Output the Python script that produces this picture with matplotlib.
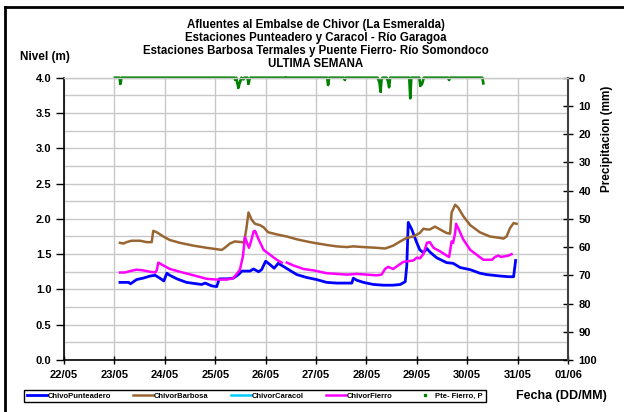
import numpy as np
import matplotlib.pyplot as plt
from matplotlib.lines import Line2D
from matplotlib.ticker import MultipleLocator, FormatStrFormatter

plt.rcParams['font.family'] = ['Liberation Sans', 'DejaVu Sans']
plt.rcParams['font.weight'] = 'bold'

# fechas como dia de mayo (fraccion de dia)
date_labels = ['22/05', '23/05', '24/05', '25/05', '26/05', '27/05',
               '28/05', '29/05', '30/05', '31/05', '01/06']

punt_t = [23.11, 23.28, 23.32, 23.44, 23.57, 23.71, 23.81, 23.90, 23.98, 24.04,
          24.10, 24.24, 24.43, 24.63, 24.73, 24.80, 24.93, 25.03, 25.08, 25.23,
          25.36, 25.46, 25.53, 25.69, 25.76, 25.86, 25.92, 26.00, 26.09, 26.17,
          26.25, 26.32, 26.48, 26.62, 26.81, 27.01, 27.21, 27.41, 27.61, 27.71,
          27.74, 27.81, 27.94, 28.14, 28.34, 28.53, 28.67, 28.77, 28.80, 28.83,
          28.90, 29.00, 29.06, 29.13, 29.20, 29.26, 29.39, 29.59, 29.72, 29.86,
          30.06, 30.25, 30.39, 30.52, 30.65, 30.82, 30.92, 30.96]
punt_v = [1.10, 1.10, 1.08, 1.14, 1.16, 1.19, 1.20, 1.16, 1.12, 1.23,
          1.20, 1.15, 1.10, 1.08, 1.07, 1.09, 1.05, 1.04, 1.15, 1.15,
          1.16, 1.21, 1.26, 1.26, 1.29, 1.25, 1.28, 1.40, 1.35, 1.30,
          1.37, 1.34, 1.27, 1.21, 1.17, 1.14, 1.10, 1.09, 1.09, 1.09,
          1.16, 1.13, 1.10, 1.07, 1.06, 1.06, 1.07, 1.11, 1.33, 1.95,
          1.85, 1.66, 1.56, 1.52, 1.58, 1.53, 1.45, 1.38, 1.37, 1.31,
          1.28, 1.23, 1.21, 1.20, 1.19, 1.18, 1.18, 1.41]

barb_t = [23.11, 23.18, 23.24, 23.34, 23.51, 23.64, 23.74, 23.77, 23.84, 23.97,
          24.10, 24.30, 24.57, 24.83, 25.03, 25.13, 25.19, 25.29, 25.39, 25.53,
          25.57, 25.62, 25.66, 25.72, 25.79, 25.89, 25.96, 26.05, 26.22, 26.42,
          26.62, 26.88, 27.21, 27.41, 27.61, 27.74, 27.94, 28.20, 28.37, 28.53,
          28.67, 28.80, 28.93, 29.06, 29.13, 29.20, 29.26, 29.36, 29.46, 29.59,
          29.66, 29.69, 29.76, 29.82, 29.92, 30.06, 30.25, 30.45, 30.65, 30.72,
          30.78, 30.85, 30.92, 30.98]
barb_v = [1.66, 1.65, 1.67, 1.69, 1.69, 1.67, 1.67, 1.83, 1.81, 1.75,
          1.70, 1.66, 1.62, 1.59, 1.57, 1.56, 1.59, 1.65, 1.68, 1.67,
          1.66, 1.87, 2.09, 1.99, 1.93, 1.91, 1.88, 1.81, 1.78, 1.75,
          1.71, 1.67, 1.63, 1.61, 1.60, 1.61, 1.60, 1.59, 1.58, 1.62,
          1.68, 1.73, 1.75, 1.80, 1.86, 1.85, 1.85, 1.89, 1.85, 1.80,
          1.79, 2.09, 2.20, 2.16, 2.04, 1.91, 1.81, 1.75, 1.73, 1.72,
          1.75, 1.87, 1.94, 1.93]

carac_t = []
carac_v = []

fier_t = [23.11, 23.21, 23.31, 23.44, 23.57, 23.71, 23.81, 23.84, 23.87, 23.97,
          24.10, 24.30, 24.57, 24.83, 25.03, 25.23, 25.36, 25.46, 25.49, 25.55,
          25.59, 25.62, 25.67, 25.71, 25.76, 25.79, 25.86, 25.96, 26.09, 26.22,
          26.32, 26.37, 26.42, 26.55, 26.75, 26.95, 27.21, 27.41, 27.61, 27.81,
          28.01, 28.20, 28.30, 28.37, 28.43, 28.53, 28.63, 28.73, 28.83, 28.93,
          29.00, 29.06, 29.13, 29.20, 29.26, 29.33, 29.46, 29.59, 29.64, 29.69,
          29.72, 29.76, 29.78, 29.82, 29.92, 30.06, 30.19, 30.32, 30.49, 30.55,
          30.62, 30.67, 30.75, 30.82, 30.88]
fier_v = [1.24, 1.24, 1.26, 1.28, 1.27, 1.25, 1.24, 1.27, 1.38, 1.34,
          1.29, 1.25, 1.20, 1.15, 1.14, 1.14, 1.16, 1.25, 1.28, 1.47,
          1.74, 1.68, 1.59, 1.68, 1.82, 1.83, 1.71, 1.56, 1.49, 1.42,
          1.38, np.nan, 1.38, 1.34, 1.29, 1.27, 1.23, 1.22, 1.21, 1.22,
          1.21, 1.20, 1.21, 1.29, 1.32, 1.29, 1.34, 1.39, 1.40, 1.41,
          1.45, 1.44, 1.50, 1.66, 1.67, 1.59, 1.54, 1.48, 1.46, 1.68,
          1.66, 1.80, 1.93, 1.87, 1.71, 1.56, 1.49, 1.42, 1.42, 1.46,
          1.48, 1.46, 1.47, 1.48, 1.50]

prec_t = [23.01, 23.10, 23.12, 23.14, 25.38, 25.40, 25.42, 25.44, 25.46, 25.48,
          25.50, 25.52, 25.56, 25.58, 25.64, 25.66, 25.68, 25.70, 26.38, 26.39,
          26.42, 27.22, 27.24, 27.26, 27.55, 27.57, 27.59, 28.22, 28.24, 28.26,
          28.28, 28.30, 28.32, 28.40, 28.43, 28.45, 28.47, 28.85, 28.87, 28.89,
          29.05, 29.07, 29.08, 29.10, 29.12, 29.14, 29.62, 29.64, 29.66, 30.30,
          30.32]
prec_v = [0, 0, 2.2, 0, 0, 0.8, 0, 2.0, 3.6, 2.2,
          1.2, 0, 0.6, 0, 0, 2.2, 0.6, 0, 0, np.nan,
          0, 0, 2.6, 0, 0, 0.8, 0, 0, 0.8, 1.8,
          5.0, 0.6, 0, 0, 1.4, 3.4, 0, 0, 7.3, 0,
          0, 2.9, 2.0, 2.4, 1.2, 0, 0, 0.8, 0, 0,
          2.0]


def to_x(days):
    return np.array(days, dtype=float) - 22


fig = plt.figure(figsize=(6.24, 4.12), dpi=100)
ax = fig.add_axes([0.1026, 0.1262, 0.8077, 0.6852])
ax2 = ax.twinx()

l1, = ax.plot(to_x(punt_t), punt_v, color='#0000FF', lw=2.0, label='ChivoPunteadero')
l2, = ax.plot(to_x(barb_t), barb_v, color='#996633', lw=1.8, label='ChivorBarbosa')
l3, = ax.plot(to_x(carac_t), carac_v, color='#00CCFF', lw=1.8, label='ChivorCaracol')
l4, = ax.plot(to_x(fier_t), fier_v, color='#FF00FF', lw=1.8, label='ChivorFierro')
ax2.plot(to_x(prec_t), prec_v, color='#008000', lw=1.9, marker='s',
         markersize=1.8, markeredgewidth=0, clip_on=False)
l5 = Line2D([], [], color='#008000', lw=0, marker='s', markersize=2, label='Pte- Fierro, P')

ax.set_xlim(0, 10)
ax.set_ylim(0, 4)
ax.set_xticks(range(11))
ax.set_xticklabels(date_labels)
ax.set_yticks(np.arange(0, 4.01, 0.5))
ax.yaxis.set_minor_locator(MultipleLocator(0.25))
ax.yaxis.set_major_formatter(FormatStrFormatter('%.1f'))
ax.grid(which='both', color='#C8C8C8', lw=1)
ax.set_axisbelow(True)
ax.tick_params(axis='y', which='major', direction='out', length=6, width=1, pad=3, labelsize=8)
ax.tick_params(axis='y', which='minor', length=0)
ax.tick_params(axis='x', direction='inout', length=6, width=1, pad=4, labelsize=8)

ax2.set_ylim(100, 0)
ax2.set_yticks(range(0, 101, 10))
ax2.tick_params(axis='y', direction='inout', length=7, width=1, pad=4, labelsize=8)

for name in ['top', 'right']:
    ax.spines[name].set_visible(False)
for name in ['left', 'bottom']:
    ax.spines[name].set_color('black')
    ax.spines[name].set_linewidth(1.2)
    ax2.spines[name].set_visible(False)
ax2.spines['top'].set_color('#C8C8C8')
ax2.spines['top'].set_linewidth(1)
ax2.spines['right'].set_color('#404040')
ax2.spines['right'].set_linewidth(1.5)

titles = ['Afluentes al Embalse de Chivor (La Esmeralda)',
          'Estaciones Punteadero y Caracol - Río Garagoa',
          'Estaciones Barbosa Termales y Puente Fierro- Río Somondoco',
          'ULTIMA SEMANA']
for i, t in enumerate(titles):
    fig.text(0.506, 0.94 - i * 0.0315, t, ha='center', va='center', fontsize=8.3, fontweight='bold')

fig.text(0.032, 0.862, 'Nivel (m)', ha='left', va='center', fontsize=8.5, fontweight='bold')
fig.text(0.973, 0.663, 'Precipitacion (mm)', ha='center', va='center', rotation=90,
         fontsize=8.5, fontweight='bold')
fig.text(0.9, 0.039, 'Fecha (DD/MM)', ha='center', va='center', fontsize=9, fontweight='bold')

leg = fig.legend(handles=[l1, l2, l3, l4, l5], loc='lower left', ncol=5, mode='expand',
                 bbox_to_anchor=(0.0385, 0.0235, 0.74, 0.037), borderaxespad=0,
                 prop={'size': 5.5, 'weight': 'bold'}, handlelength=2.6, handletextpad=0.1,
                 fancybox=False, edgecolor='black', framealpha=1, borderpad=0.35)
leg.get_frame().set_linewidth(1.0)

# marco exterior
fig.add_artist(Line2D([5 / 624, 5 / 624], [0, 1 - 7 / 412], color='black', lw=2))
fig.add_artist(Line2D([5 / 624, 1], [1 - 7 / 412, 1 - 7 / 412], color='black', lw=2))

fig.savefig('out.png', dpi=100)
